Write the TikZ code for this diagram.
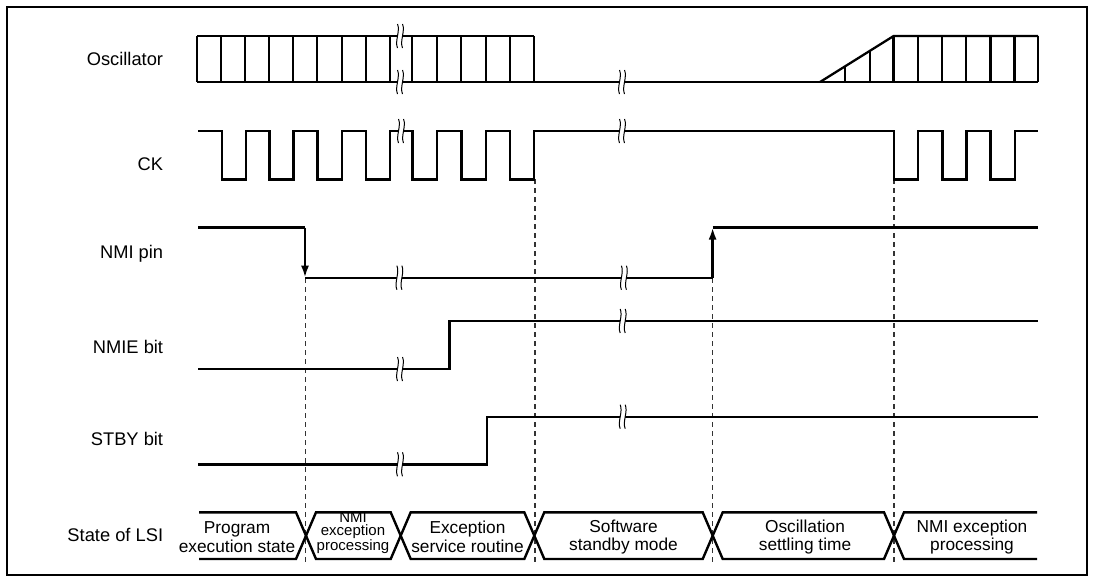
\documentclass[tikz,border=0pt]{standalone}
\usepackage{fontspec}
\setmainfont{Liberation Sans}
\usetikzlibrary{arrows.meta}
\newcommand\brkmark[2]{%
  \fill[white] ({#1-2.5},{#2-12}) .. controls ({#1+0.5},{#2-5}) and ({#1-5.5},{#2+5}) .. ({#1-2.5},{#2+12}) -- ({#1+2.5},{#2+12}) .. controls ({#1-0.5},{#2+5}) and ({#1+5.5},{#2-5}) .. ({#1+2.5},{#2-12}) -- cycle;
  \draw[line width=1pt] ({#1-2.5},{#2-12}) .. controls ({#1+0.5},{#2-5}) and ({#1-5.5},{#2+5}) .. ({#1-2.5},{#2+12});
  \draw[line width=1pt] ({#1+2.5},{#2-12}) .. controls ({#1+5.5},{#2-5}) and ({#1-0.5},{#2+5}) .. ({#1+2.5},{#2+12});
}
\begin{document}
\begin{tikzpicture}[x=1pt,y=-1pt,
  sig/.style={line width=2.4pt},
  osc/.style={line width=2.3pt},
  guide/.style={line width=1.3pt, dash pattern=on 5pt off 4pt, black!80},
  lbl/.style={font=\fontsize{18.3}{20}\selectfont, anchor=base east, inner sep=0pt},
  st/.style={font=\fontsize{17.3}{18.5}\selectfont, align=center, inner sep=0pt},
  stsmall/.style={font=\fontsize{15}{13.2}\selectfont, align=center, inner sep=0pt},
  arr/.style={-{Latex[length=12pt,width=8pt]}}]
\useasboundingbox (0,0) rectangle (1094,582);
\draw[line width=2pt] (7,7) rectangle (1087,575);

% labels
\node[lbl] (lOsc) at (163.3,65) {Oscillator};
\node[lbl] (lCK) at (163.3,170) {CK};
\node[lbl] (lNMI) at (163.3,258) {NMI pin};
\node[lbl] (lNMIE) at (163.3,353.3) {NMIE bit};
\node[lbl] (lSTBY) at (163.3,445.7) {STBY bit};
\node[lbl] (lLSI) at (163.3,541.7) {State of LSI};

% guide lines
\draw[guide] (305.5,278) -- (305.5,563);
\draw[guide] (535,179) -- (535,563);
\draw[guide] (712.7,278) -- (712.7,563);
\draw[guide] (894,179) -- (894,563);

% oscillator
\draw[osc] (197,36) -- (534,36);
\draw[osc] (197,82) -- (1038,82);
\foreach \x in {197,221,245,269.3,293.3,317.3,341.7,365.7,390,412.3,436.7,461.3,485.7,510,534}
  \draw[osc] (\x,36) -- (\x,82);
\draw[osc] (820,82) -- (893.6,36) -- (1038,36);
\foreach \x in {893.6,917.8,942,966.2,990.4,1014.6,1038}
  \draw[osc] (\x,36) -- (\x,82);
\draw[osc] (845,82) -- (845,66.4);
\draw[osc] (870,82) -- (870,50.8);

% CK
\draw[sig] (198,131) -| (221.7,179.3) -| (245.7,131) -| (269.3,179.3) -| (293.3,131)
  -| (317.3,179.3) -| (341.7,131) -| (365.7,179.3) -| (390,131)
  -| (412.3,179.3) -| (437,131) -| (461.5,179.3) -| (485.7,131) -| (510,179.3) -| (534,131)
  -| (894,179.3) -| (918,131) -| (942.4,179.3) -| (966.5,131) -| (990.6,179.3) -| (1014.8,131) -- (1038,131);

% NMI pin
\draw[sig] (198,227.5) -- (305,227.5);
\draw[sig,arr] (305,227.5) -- (305,277.7);
\draw[sig] (305,277.7) -- (712.6,277.7);
\draw[sig,arr] (712.6,277.7) -- (712.6,227.5);
\draw[sig] (712.6,227.5) -- (1038,227.5);

% NMIE bit
\draw[sig] (198,369) -| (449.3,321) -- (1038,321);
% STBY bit
\draw[sig] (198,464.3) -| (486.7,416.7) -- (1038,416.7);

% state band
\draw[sig] (199,512.3) -- (296,512.3) -- (316,559) -- (390.7,559) -- (410.7,512.3) -- (524.3,512.3)
  -- (544.3,559) -- (702.7,559) -- (722.7,512.3) -- (884,512.3) -- (904,559) -- (1037,559);
\draw[sig] (199,559) -- (296,559) -- (316,512.3) -- (390.7,512.3) -- (410.7,559) -- (524.3,559)
  -- (544.3,512.3) -- (702.7,512.3) -- (722.7,559) -- (884,559) -- (904,512.3) -- (1037,512.3);

\node[st] (s1) at (237,537) {Program\\execution state};
\node[stsmall] (s2) at (353,533) {NMI\\exception\\processing};
\node[st] (s3) at (467.5,537) {Exception\\service routine};
\node[st] (s4) at (623.5,537) {Software\\standby mode};
\node[st] (s5) at (805,537) {Oscillation\\settling time};
\node[st] (s6) at (972,537) {NMI exception\\processing};

% break marks
\brkmark{400}{36}
\brkmark{400}{82}
\brkmark{401}{131}
\brkmark{622}{82}
\brkmark{622}{131}
\brkmark{399.4}{277.7}
\brkmark{623.9}{277.7}
\brkmark{400}{369}
\brkmark{622.7}{321}
\brkmark{400}{464.3}
\brkmark{622.7}{416.7}
\end{tikzpicture}
\end{document}
